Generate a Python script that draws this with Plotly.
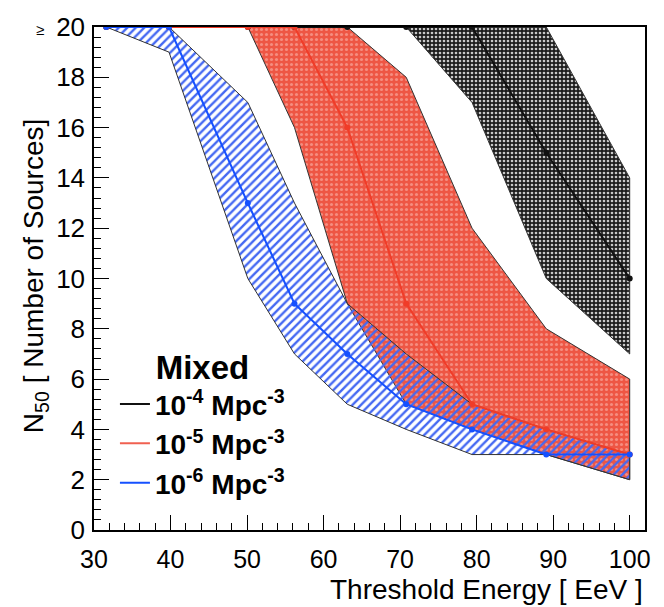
import plotly.graph_objects as go

# Threshold energies (EeV)
energy = [31.6, 39.8, 50.1, 56.2, 63.1, 70.8, 79.4, 89.1, 100.0]

# density 1e-4 Mpc^-3 (black)
black_mid = [20, 20, 20, 20, 20, 20, 20, 15, 10]
black_hi = [20, 20, 20, 20, 20, 20, 20, 20, 14]
black_lo = [20, 20, 20, 20, 20, 20, 17, 10, 7]

# density 1e-5 Mpc^-3 (red)
red_mid = [20, 20, 20, 20, 16, 9, 5, 4, 3]
red_hi = [20, 20, 20, 20, 20, 18, 12, 8, 6]
red_lo = [20, 20, 20, 16, 9, 5, 4, 3, 2]

# density 1e-6 Mpc^-3 (blue)
blue_mid = [20, 20, 13, 9, 7, 5, 4, 3, 3]
blue_hi = [20, 20, 17, 13, 9, 7, 5, 4, 3]
blue_lo = [20, 19, 10, 7, 5, 4, 3, 3, 2]

labels = ["<b>10<sup>-4</sup> Mpc<sup>-3</sup></b>",
          "<b>10<sup>-5</sup> Mpc<sup>-3</sup></b>",
          "<b>10<sup>-6</sup> Mpc<sup>-3</sup></b>"]

BLACK = "#111111"
RED = "#f03c28"
BLUE = "#1550ff"
FONT = "Liberation Sans, Arial, Helvetica, sans-serif"

fig = go.Figure()


def band(hi, lo, pattern):
    fig.add_trace(go.Scatter(
        x=energy + energy[::-1], y=hi + lo[::-1],
        mode="lines", fill="toself",
        fillcolor="rgba(0,0,0,0)",
        fillpattern=pattern,
        line=dict(color="#333333", width=1),
        showlegend=False, hoverinfo="skip"))


band(black_hi, black_lo, dict(shape=".", fgcolor="#c8c8c8", bgcolor="#1c1c1c",
                              size=4, solidity=0.35, fillmode="replace"))
band(red_hi, red_lo, dict(shape=".", fgcolor="#f58d80", bgcolor="#ee5644",
                          size=5, solidity=0.3, fillmode="replace"))
band(blue_hi, blue_lo, dict(shape="/", fgcolor="#4468f2", bgcolor="rgba(255,255,255,0)",
                            size=6, solidity=0.4, fillmode="replace"))

for i, (mid, col) in enumerate([(black_mid, BLACK), (red_mid, RED), (blue_mid, BLUE)]):
    fig.add_trace(go.Scatter(
        x=energy, y=mid, mode="lines+markers",
        line=dict(color=col, width=2),
        marker=dict(color=col, size=6),
        showlegend=False, hoverinfo="skip"))

for i, col in enumerate([BLACK, "#f06050", BLUE]):
    fig.add_trace(go.Scatter(
        x=[None], y=[None], mode="lines",
        line=dict(color=col, width=2),
        name=labels[i], legendgroup="g%d" % i, showlegend=True))

fig.update_layout(
    width=664, height=607,
    margin=dict(l=94, r=19, t=19, b=77),
    paper_bgcolor="white", plot_bgcolor="white",
    font=dict(family=FONT, color="black"),
    showlegend=True,
    legend=dict(
        x=0.038, y=0.385, xanchor="left", yanchor="top",
        bgcolor="rgba(0,0,0,0)",
        font=dict(size=28, family=FONT, color="black"),
        title=dict(text="<b>Mixed</b>", side="top center",
                   font=dict(size=33, family=FONT, color="black")),
        tracegroupgap=0,
        itemwidth=30,
    ),
    xaxis=dict(
        range=[30, 102], showgrid=False, zeroline=False,
        tickmode="linear", tick0=30, dtick=10,
        ticks="inside", ticklen=15, tickwidth=1.2, tickcolor="black",
        minor=dict(ticks="inside", ticklen=7, dtick=2, tickcolor="black", tickwidth=1.2),
        showline=True, linecolor="black", linewidth=1.5, mirror=True,
        tickfont=dict(size=25, family=FONT, color="black"),
        ticklabelstandoff=6,
    ),
    yaxis=dict(
        range=[0, 20], showgrid=False, zeroline=False,
        tickmode="linear", tick0=0, dtick=2,
        ticks="inside", ticklen=15, tickwidth=1.2, tickcolor="black",
        minor=dict(ticks="inside", ticklen=7, dtick=0.4, tickcolor="black", tickwidth=1.2),
        showline=True, linecolor="black", linewidth=1.5, mirror=True,
        tickfont=dict(size=26, family=FONT, color="black"),
        ticklabelstandoff=2,
    ),
    annotations=[
        dict(text="Threshold Energy [ EeV ]", xref="paper", yref="paper",
             x=1.0, y=-0.118, xanchor="right", yanchor="middle", showarrow=False,
             font=dict(size=28, family=FONT, color="black")),
        dict(text="N<sub>50</sub> [ Number of Sources]", xref="paper", yref="paper",
             x=-0.105, y=0.505, xanchor="center", yanchor="middle", showarrow=False,
             textangle=-90, font=dict(size=28, family=FONT, color="black")),
        dict(text="≥", xref="paper", yref="paper",
             x=-0.098, y=0.995, xanchor="center", yanchor="middle", showarrow=False,
             font=dict(size=15, family=FONT, color="black")),
    ],
)

fig.write_html("out.html")
